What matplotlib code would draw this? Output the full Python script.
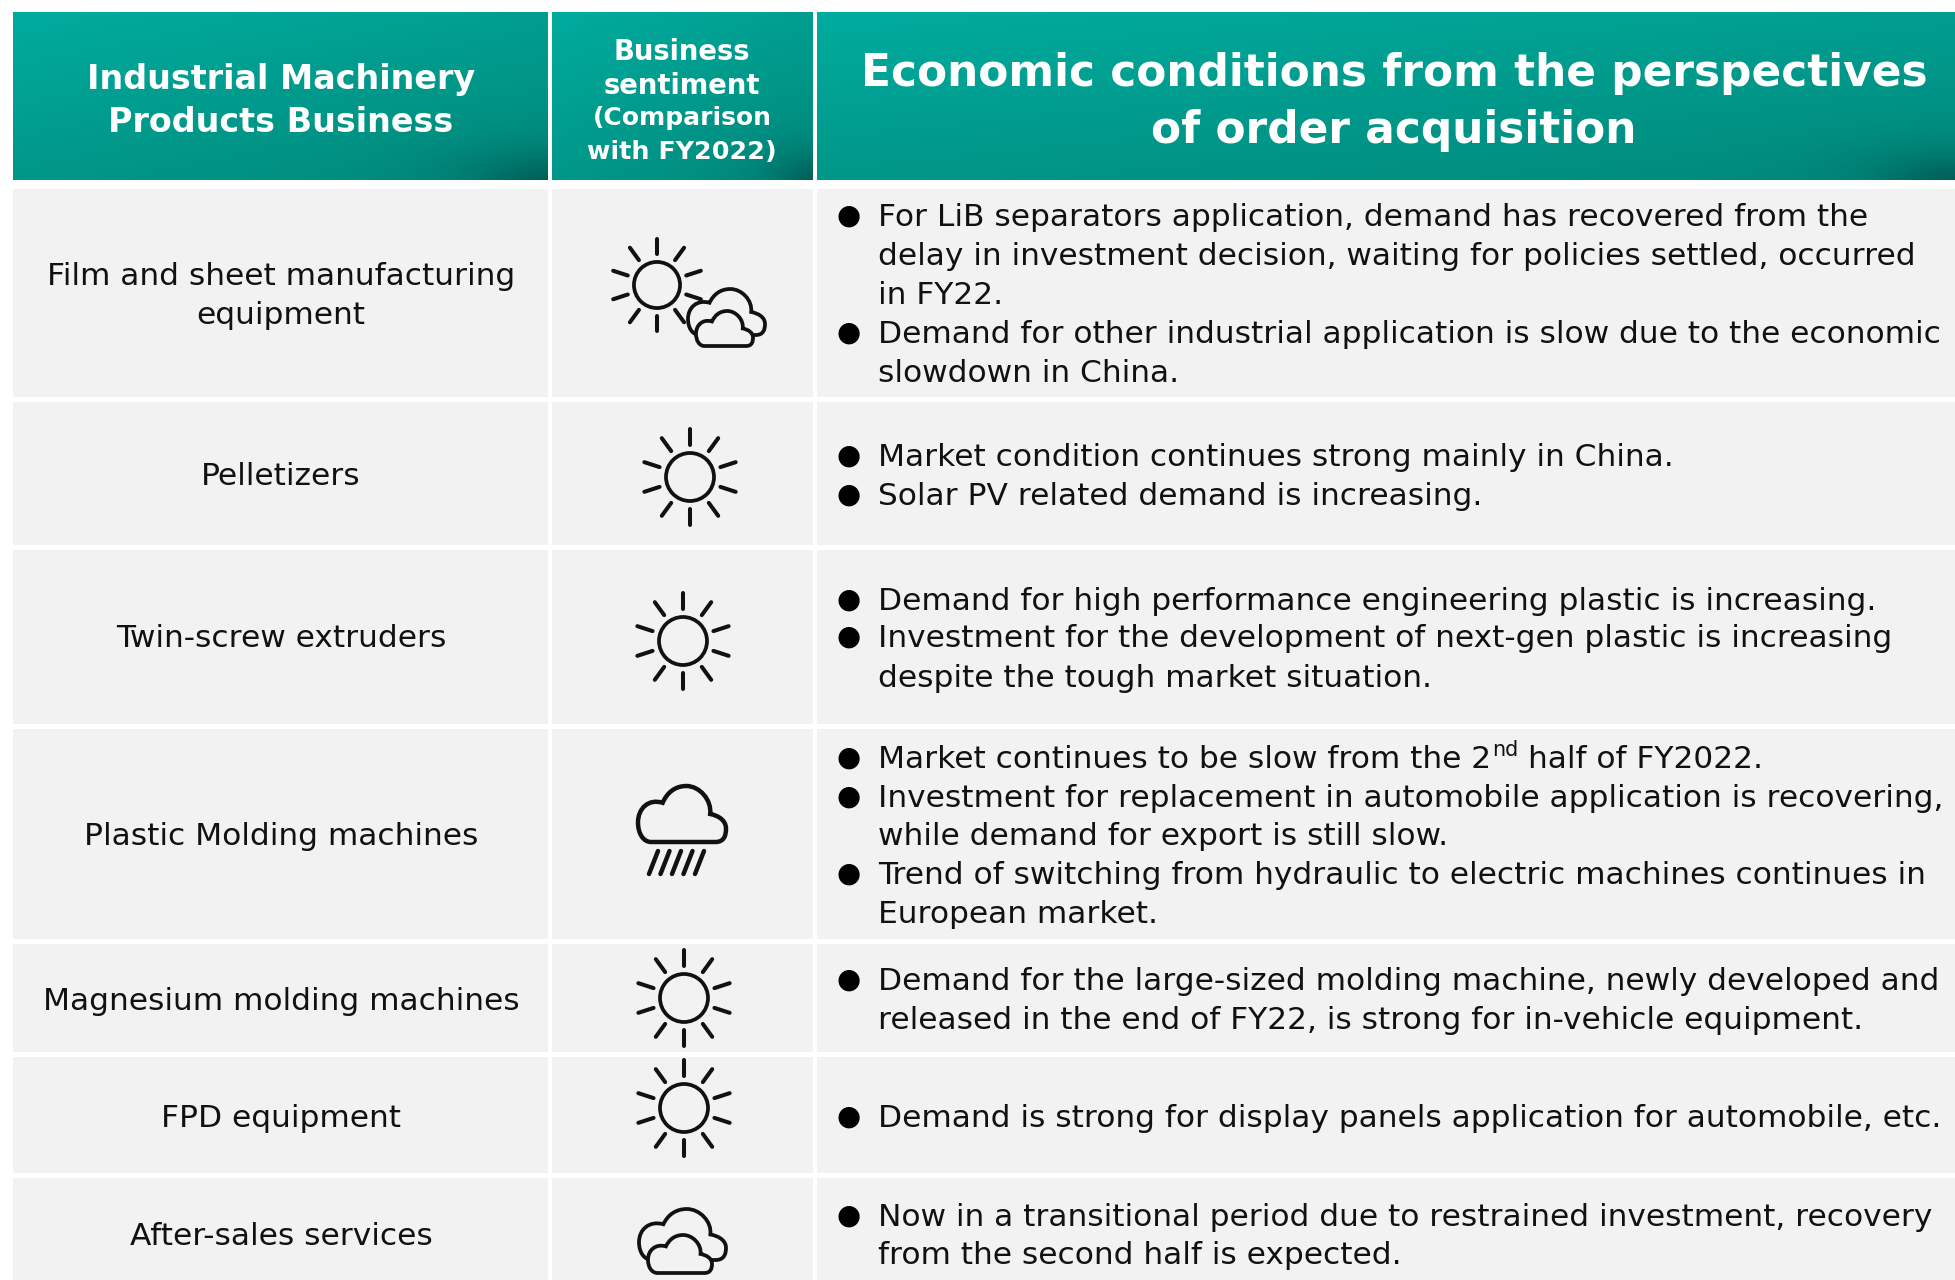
import numpy as np
import matplotlib
matplotlib.use("Agg")
import matplotlib.pyplot as plt
from matplotlib.path import Path
from matplotlib.patches import PathPatch, Circle, Rectangle

plt.rcParams['font.family'] = ['DejaVu Sans']

# ---------- content ----------
header_1 = ["Industrial Machinery", "Products Business"]
header_2 = ["Business", "sentiment", "(Comparison", "with FY2022)"]
header_3 = ["Economic conditions from the perspectives", "of order acquisition"]

row_labels = [["Film and sheet manufacturing", "equipment"], ["Pelletizers"], ["Twin-screw extruders"],
              ["Plastic Molding machines"], ["Magnesium molding machines"], ["FPD equipment"], ["After-sales services"]]
sentiments = ["sun_cloud", "sun", "sun", "rain", "sun", "sun", "cloud"]
comments = [
    [["For LiB separators application, demand has recovered from the",
      "delay in investment decision, waiting for policies settled, occurred",
      "in FY22."],
     ["Demand for other industrial application is slow due to the economic",
      "slowdown in China."]],
    [["Market condition continues strong mainly in China."],
     ["Solar PV related demand is increasing."]],
    [["Demand for high performance engineering plastic is increasing."],
     ["Investment for the development of next-gen plastic is increasing",
      "despite the tough market situation."]],
    [["Market continues to be slow from the 2|nd| half of FY2022."],
     ["Investment for replacement in automobile application is recovering,",
      "while demand for export is still slow."],
     ["Trend of switching from hydraulic to electric machines continues in",
      "European market."]],
    [["Demand for the large-sized molding machine, newly developed and",
      "released in the end of FY22, is strong for in-vehicle equipment."]],
    [["Demand is strong for display panels application for automobile, etc."]],
    [["Now in a transitional period due to restrained investment, recovery",
      "from the second half is expected."]],
]

# ---------- layout (pixels) ----------
W, H = 1955, 1280
cols = [(13, 548), (552, 813), (817, 1955)]
head = (12, 180)
rows = [(189, 397), (402, 545), (550, 724), (729, 939), (944, 1052), (1057, 1173), (1178, 1280)]
label_y = [[275, 314], [475], [637], [835], [1000], [1117], [1235]]
body_y = [[216, 255, 294, 333, 372], [456, 495], [600, 637, 677], [758, 797, 835, 874, 913],
          [980, 1019], [1117], [1216, 1254]]
sun_pos = {0: (657, 285, .96), 1: (690, 477, 1.0), 2: (683, 641, 1.0), 4: (684, 998, 1.0), 5: (684, 1108, 1.0)}
BG = "#f2f2f2"
BODY = 22.5
LABEL = 22.5
BX, TX = 849, 878
B_OFF = 10

fig = plt.figure(figsize=(W / 100, H / 100), dpi=100, facecolor="white")
ax = fig.add_axes([0, 0, 1, 1])
ax.axis("off")


def gradient(x0, x1, y0, y1):
    ny, nx = 140, 200
    u, v = np.meshgrid(np.linspace(0, 1, nx), np.linspace(0, 1, ny))
    t = .4 * u + .6 * v
    a = np.array([0, 172, 158]); b = np.array([0, 137, 123]); c = np.array([0, 92, 86])
    img = a + (b - a) * t[..., None]
    reach = min(80.0, (x1 - x0) * .17)
    d = np.sqrt(((1 - u) * (x1 - x0) / reach) ** 2 + ((1 - v) * (y1 - y0) / 28.0) ** 2)
    w = np.exp(-d ** 1.4)[..., None] * .9
    img = img * (1 - w) + c * w
    ax.imshow(img / 255, extent=(x0, x1, y1, y0), aspect="auto", interpolation="bilinear", zorder=1)


for x0, x1 in cols:
    gradient(x0, x1, *head)
    for y0, y1 in rows:
        ax.add_patch(Rectangle((x0, y0), x1 - x0, y1 - y0, fc=BG, ec="none", zorder=1))


def htext(x, y, s, fs):
    ax.text(x, y, s, color="white", fontsize=fs, fontweight="bold", ha="center", va="center_baseline", zorder=3)


htext(281, 76, header_1[0], 24)
htext(281, 119, header_1[1], 24)
for y, s, fs in zip([49, 83, 116, 149], header_2, [19.8, 19.8, 18, 18.3]):
    htext(682, y, s, fs)
htext(1394, 69, header_3[0], 31.6)
htext(1394, 126, header_3[1], 31.6)

for labs, ys in zip(row_labels, label_y):
    for s, y in zip(labs, ys):
        ax.text(281, y + B_OFF, s, fontsize=LABEL, ha="center", va="baseline", color="#111111", zorder=3)

ax.set_xlim(0, W); ax.set_ylim(H, 0)
rend = fig.canvas.get_renderer()
for groups, ys in zip(comments, body_y):
    k = 0
    for g in groups:
        ax.text(BX, ys[k], "\u25cf", fontsize=20, ha="center", va="center", color="black", zorder=3)
        for line in g:
            y = ys[k] + B_OFF
            if "|" in line:
                a, b, c = line.split("|")
                t = ax.text(TX, y, a, fontsize=BODY, va="baseline", color="#111111", zorder=3)
                ax.set_xlim(0, W); ax.set_ylim(H, 0)
                xe = t.get_window_extent(rend).x1
                t2 = ax.text(xe + 1, y - 12, b, fontsize=BODY * .66, va="baseline", color="#111111", zorder=3)
                xe = t2.get_window_extent(rend).x1
                ax.text(xe + 10, y, c.strip(), fontsize=BODY, va="baseline", color="#111111", zorder=3)
            else:
                ax.text(TX, y, line, fontsize=BODY, va="baseline", color="#111111", zorder=3)
            k += 1

# ---------- icons ----------
LW = 2.7
INK = "#111111"


def sun(cx, cy, s):
    ax.add_patch(Circle((cx, cy), 24 * s, fc="none", ec=INK, lw=LW, zorder=4))
    for ang in np.arange(18, 378, 36) + 0.0:
        c, n = np.cos(np.radians(ang)), np.sin(np.radians(ang))
        ax.plot([cx + c * 32 * s, cx + c * 48 * s], [cy + n * 32 * s, cy + n * 48 * s],
                color=INK, lw=LW + .2, solid_capstyle="round", zorder=4)


# cloud outline, unit box: x 0..1, y 0..1 (top to bottom)
C_VERTS = [(.15, 1.0), (.88, 1.0),
           (.98, 1.0), (1.0, .88), (1.0, .76),
           (1.0, .62), (.92, .53), (.82, .50),
           (.84, .25), (.70, .0), (.55, .0),
           (.42, .0), (.33, .12), (.28, .30),
           (.12, .22), (.0, .40), (.0, .65),
           (.0, .85), (.06, 1.0), (.15, 1.0)]
C_CODES = [Path.MOVETO, Path.LINETO] + [Path.CURVE4] * 18


def cloud(x0, y0, x1, y1, fill="none", lw=LW, z=5):
    v = [(x0 + (x1 - x0) * a, y0 + (y1 - y0) * b) for a, b in C_VERTS]
    ax.add_patch(PathPatch(Path(v + [v[0]], C_CODES + [Path.CLOSEPOLY]), fc=fill, ec=INK, lw=lw, zorder=z))


for i, kind in enumerate(sentiments):
    if kind in ("sun", "sun_cloud"):
        sun(*sun_pos[i])
    if kind == "sun_cloud":
        cloud(688, 289, 765, 335, fill=BG)
        cloud(696, 311, 753, 346, fill=BG, z=6)
    if kind == "rain":
        cloud(638, 786, 726, 842, lw=3.2)
        for dx in range(5):
            ax.plot([658 + dx * 11.5, 649 + dx * 11.5], [851, 874], color=INK, lw=3.2, solid_capstyle="round", zorder=5)
    if kind == "cloud":
        cloud(639, 1209, 726, 1260)
        cloud(648, 1235, 712, 1273, fill=BG, z=6)

ax.set_xlim(0, W)
ax.set_ylim(H, 0)
fig.savefig("out.png", dpi=100, facecolor="white")
